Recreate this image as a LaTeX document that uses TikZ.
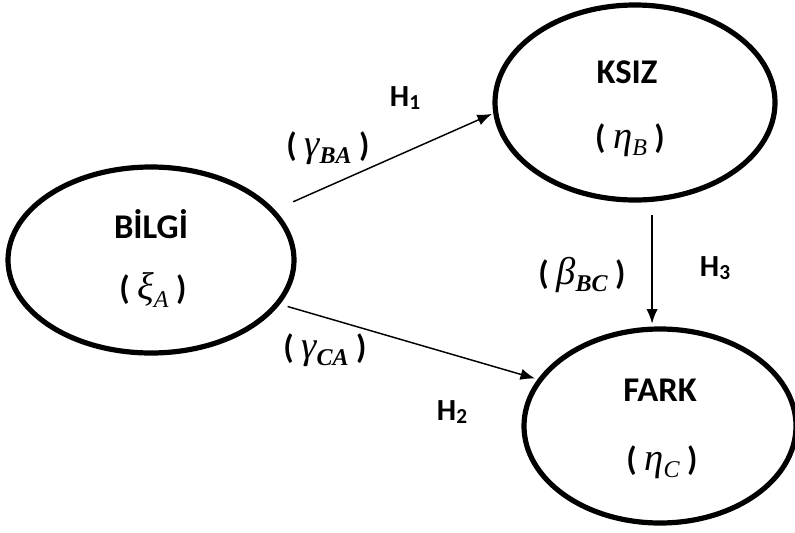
\documentclass[tikz,border=0pt]{standalone}
\usepackage{fontspec}
\setmainfont{Carlito}
\newfontfamily\tms{Liberation Serif}
\usetikzlibrary{shapes.geometric,arrows.meta}
\newcommand{\gsub}[3]{{\fontsize{29pt}{32pt}\selectfont\tms\itshape #1}\raisebox{-0.45ex}{\fontsize{18pt}{20pt}\selectfont\tms#3\itshape #2}}
\newcommand{\pl}{{\bfseries\fontsize{25pt}{28pt}\selectfont (}\ }
\newcommand{\pr}{\ {\bfseries\fontsize{25pt}{28pt}\selectfont )}}
\tikzset{
  ell/.style={ellipse, draw, line width=3.9pt, inner sep=0pt, outer sep=0pt},
  lbl/.style={font=\bfseries\fontsize{26pt}{30pt}\selectfont, inner sep=0pt},
  sym/.style={font=\fontsize{25pt}{30pt}\selectfont, inner sep=0pt},
  hl/.style={font=\bfseries\fontsize{23pt}{26pt}\selectfont, inner sep=0pt},
  arr/.style={line width=1.1pt, -{Latex[length=11pt, width=8.5pt]}}
}
\newcommand{\hsub}[1]{H\raisebox{-0.25ex}{\fontsize{16pt}{18pt}\selectfont #1}}
\begin{document}
\begin{tikzpicture}[x=0.75pt, y=-0.75pt]
\useasboundingbox (0,0) rectangle (795,532);
\node[ell, minimum width=214.5pt, minimum height=139.5pt] (bilgi) at (151,260) {};
\node[ell, minimum width=210pt, minimum height=146.25pt] (ksiz) at (635,102.5) {};
\node[ell, minimum width=204pt, minimum height=145.5pt] (fark) at (660,426) {};

\node[lbl] (bilgiT) at (151,224) {BİLGİ};
\node[sym] (bilgiS) at (153,290) {\pl\gsub{ξ}{A}{\mdseries}\pr};
\node[lbl] (ksizT) at (627,72) {KSIZ};
\node[sym] (ksizS) at (630,140) {\pl\gsub{η}{B}{\mdseries}\pr};
\node[lbl] (farkT) at (660,390) {FARK};
\node[sym] (farkS) at (662,462) {\pl\gsub{η}{C}{\mdseries}\pr};

\draw[arr, shorten <=17pt, shorten >=3pt] (bilgi.22) -- (ksiz.184);
\draw[arr, shorten <=8pt, shorten >=4pt] (bilgi.-19) -- (fark.159);
\draw[arr, shorten <=12pt, shorten >=4pt] (ksiz.-80) -- (ksiz.-80 |- fark.north);

\node[hl] (h1) at (405,98) {\hsub{1}};
\node[sym] (gba) at (328,148) {\pl\gsub{γ}{BA}{\bfseries}\pr};
\node[sym] (gca) at (325,350) {\pl\gsub{γ}{CA}{\bfseries}\pr};
\node[hl] (h2) at (452,412) {\hsub{2}};
\node[sym] (bbc) at (582,275) {\pl\gsub{β}{BC}{\bfseries}\pr};
\node[hl] (h3) at (715,268) {\hsub{3}};
\end{tikzpicture}
\end{document}
